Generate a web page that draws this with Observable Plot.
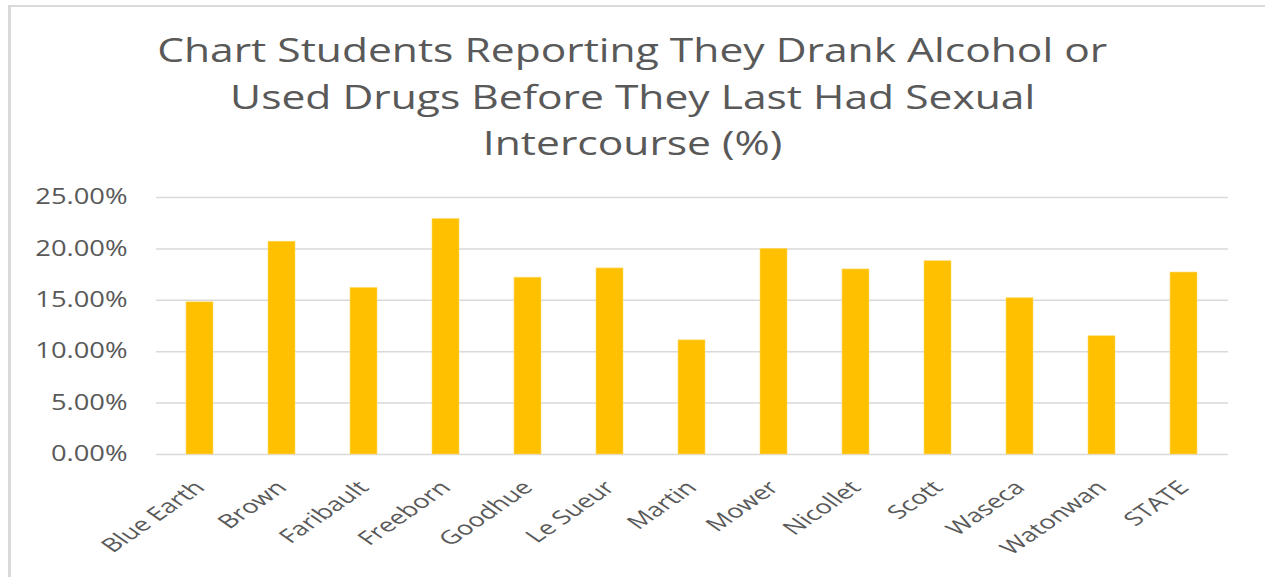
<!DOCTYPE html>
<html>
<head>
<meta charset="utf-8">
<script src="https://cdn.jsdelivr.net/npm/d3@7"></script>
<script src="https://cdn.jsdelivr.net/npm/@observablehq/plot@0.6"></script>
<style>
  html, body { margin: 0; padding: 0; background: #fff; }
  #wrap { position: relative; width: 1265px; height: 577px; overflow: hidden; font-family: "Open Sans", sans-serif; }
  #frame { position: absolute; left: 8px; top: 5px; width: 1300px; height: 700px;
           border-left: 3px solid #d9d9d9; border-top: 2px solid #d9d9d9; box-sizing: border-box; }
  #title { position: relative; height: 180px; box-sizing: border-box; padding-top: 27px;
           text-align: center; color: #595959; font-size: 32px; line-height: 46.5px; }
  #title span { display: inline-block; transform: scaleX(1.33); transform-origin: center; }
  #chart { position: relative; }
</style>
</head>
<body>
<div id="wrap">
  <div id="frame"></div>
  <div id="title">
    <span>Chart Students Reporting They Drank Alcohol or</span><br>
    <span>Used Drugs Before They Last Had Sexual</span><br>
    <span>Intercourse (%)</span>
  </div>
  <div id="chart"></div>
</div>
<script>
const counties = ["Blue Earth","Brown","Faribault","Freeborn","Goodhue","Le Sueur","Martin","Mower","Nicollet","Scott","Waseca","Watonwan","STATE"];
const percents = [14.8, 20.7, 16.2, 22.9, 17.2, 18.1, 11.1, 20.0, 18.0, 18.8, 15.2, 11.5, 17.7];
const yTicks = [0, 5, 10, 15, 20, 25];

const data = counties.map((c, i) => ({county: c, value: percents[i]}));

const chart = Plot.plot({
  width: 1265,
  height: 397,
  marginTop: 17,
  marginBottom: 123,
  marginLeft: 156,
  marginRight: 37,
  style: {background: "transparent", fontFamily: "Open Sans, sans-serif", color: "#595959"},
  x: {domain: counties, paddingInner: 0.67, paddingOuter: 0.335, label: null},
  y: {domain: [0, 25], ticks: yTicks, label: null},
  marks: [
    Plot.ruleY(yTicks, {stroke: "#d9d9d9", strokeWidth: 1.5}),
    Plot.barY(data, {x: "county", y: "value", fill: "#ffc000", stroke: "#ffd966", strokeWidth: 0.6}),
    Plot.axisY({ticks: yTicks, tickSize: 0, tickPadding: 29, tickFormat: d => d.toFixed(2) + "%",
                fontSize: 21, fill: "#595959", label: null}),
    Plot.axisX({tickSize: 0, tickRotate: -45, tickPadding: 14, dy: 16, fontSize: 20, fill: "#595959", label: null})
  ]
});
chart.querySelectorAll("text").forEach(t => t.setAttribute("fill", "#595959"));
document.getElementById("chart").appendChild(chart);
// horizontally stretch the y tick labels like the reference
chart.querySelectorAll('g[aria-label="y-axis tick label"] text').forEach(t => {
  const w = t.getComputedTextLength();
  t.setAttribute("textLength", (w * 1.3).toFixed(1));
  t.setAttribute("lengthAdjust", "spacingAndGlyphs");
});
// horizontally stretch the rotated x labels (screen space) like the reference
chart.querySelectorAll('g[aria-label="x-axis tick label"] text').forEach(t => {
  const tr = t.getAttribute("transform") || "";
  if (tr.includes("rotate(")) t.setAttribute("transform", tr.replace("rotate(", "scale(1.37,0.95) rotate("));
});
</script>
</body>
</html>
